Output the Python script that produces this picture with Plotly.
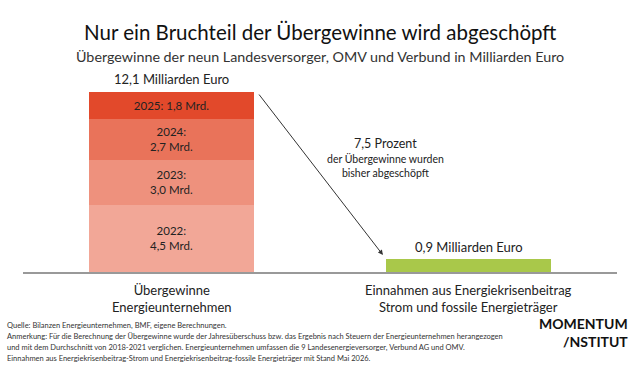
import plotly.graph_objects as go

categories = ["Übergewinne<br>Energieunternehmen", "Einnahmen aus Energiekrisenbeitrag<br>Strom und fossile Energieträger"]
years = ["2022", "2023", "2024", "2025"]
year_values = [4.5, 3.0, 2.7, 1.8]
year_labels = ["2022:<br>4,5 Mrd.", "2023:<br>3,0 Mrd.", "2024:<br>2,7 Mrd.", "2025: 1,8 Mrd."]
year_colors = ["#F2A797", "#EE917D", "#E9735A", "#E2492B"]
revenue_value = [0.9]
revenue_color = "#A9C84A"
total_label = "12,1 Milliarden Euro"
revenue_label = "0,9 Milliarden Euro"
foot_lines = [
    "Quelle: Bilanzen Energieunternehmen, BMF, eigene Berechnungen.",
    "Anmerkung: Für die Berechnung der Übergewinne wurde der Jahresüberschuss bzw. das Ergebnis nach Steuern der Energieunternehmen herangezogen",
    "und mit dem Durchschnitt von 2018-2021 verglichen. Energieunternehmen umfassen die 9 Landesenergieversorger, Verbund AG und OMV.",
    "Einnahmen aus Energiekrisenbeitrag-Strom und Energiekrisenbeitrag-fossile Energieträger mit Stand Mai 2026.",
]

FONT = "Lato"
fig = go.Figure()
for y, v, lab, c in zip(years, year_values, year_labels, year_colors):
    fig.add_trace(go.Bar(x=[0], y=[v], width=0.556, marker=dict(color=c, line=dict(width=0)),
                         text=[lab], textposition="inside", insidetextanchor="middle",
                         textfont=dict(family=FONT, size=11.5, color="#222"), name=y))
fig.add_trace(go.Bar(x=[1], y=revenue_value, width=0.556, marker=dict(color=revenue_color, line=dict(width=0)),
                     name="Einnahmen"))

H = 365
def py(px):
    return (H - 93 - px) / (H - 70 - 93)
def px_(p):
    return (p - 23) / 594

total = sum(year_values)
ann = []
ann.append(dict(x=0, y=total, xref="x", yref="y", text=total_label, showarrow=False, yanchor="bottom", yshift=3,
                font=dict(family=FONT, size=13, color="#222")))
ann.append(dict(x=1, y=revenue_value[0], xref="x", yref="y", text=revenue_label, showarrow=False, yanchor="bottom", yshift=2,
                font=dict(family=FONT, size=13, color="#222")))
ann.append(dict(x=0.712, y=1.13, xref="x", yref="y", ax=0.291, ay=11.93, axref="x", ayref="y",
                showarrow=True, arrowhead=2, arrowsize=1, arrowwidth=1, arrowcolor="#333", text=""))
ann.append(dict(x=0.72, y=8.6, xref="x", yref="y", text="7,5 Prozent", showarrow=False,
                font=dict(family=FONT, size=12.5, color="#222")))
ann.append(dict(x=0.72, y=7.1, xref="x", yref="y", text="der Übergewinne wurden<br>bisher abgeschöpft", showarrow=False,
                font=dict(family=FONT, size=10.5, color="#222")))
for i, c in enumerate(categories):
    ann.append(dict(x=i, y=0, xref="x", yref="y", text=c, showarrow=False, yanchor="top", yshift=-8,
                    font=dict(family=FONT, size=13, color="#222")))
ann.append(dict(x=0.5, y=py(18), xref="paper", yref="paper", text="Nur ein Bruchteil der Übergewinne wird abgeschöpft",
                showarrow=False, font=dict(family=FONT, size=20.5, color="#111")))
ann.append(dict(x=0.5, y=py(46), xref="paper", yref="paper", text="Übergewinne der neun Landesversorger, OMV und Verbund in Milliarden Euro",
                showarrow=False, font=dict(family=FONT, size=14.3, color="#333")))
for k, line in enumerate(foot_lines):
    ann.append(dict(x=px_(5), y=py(325 + 11 * k), xref="paper", yref="paper", text=line, xanchor="left", yanchor="middle",
                    align="left", showarrow=False, font=dict(family=FONT, size=7.5, color="#333")))
ann.append(dict(x=px_(630), y=py(334), xref="paper", yref="paper", text="<b>MOMENTUM</b>", xanchor="right",
                showarrow=False, font=dict(family=FONT, size=14, color="#111")))
ann.append(dict(x=px_(630), y=py(352), xref="paper", yref="paper", text="<b>/NSTITUT</b>", xanchor="right",
                showarrow=False, font=dict(family=FONT, size=14, color="#111")))

fig.update_layout(
    barmode="stack", width=640, height=365, showlegend=False,
    margin=dict(l=23, r=23, t=70, b=93),
    paper_bgcolor="white", plot_bgcolor="white",
    xaxis=dict(range=[-0.5, 1.5], showticklabels=False, showgrid=False, zeroline=False,
               showline=True, linecolor="#999", linewidth=1.5, ticks=""),
    yaxis=dict(range=[0, 202 / 15], visible=False, showgrid=False, zeroline=False),
    annotations=ann,
    uniformtext=dict(minsize=8, mode="show"),
)
fig.write_html("out.html")
